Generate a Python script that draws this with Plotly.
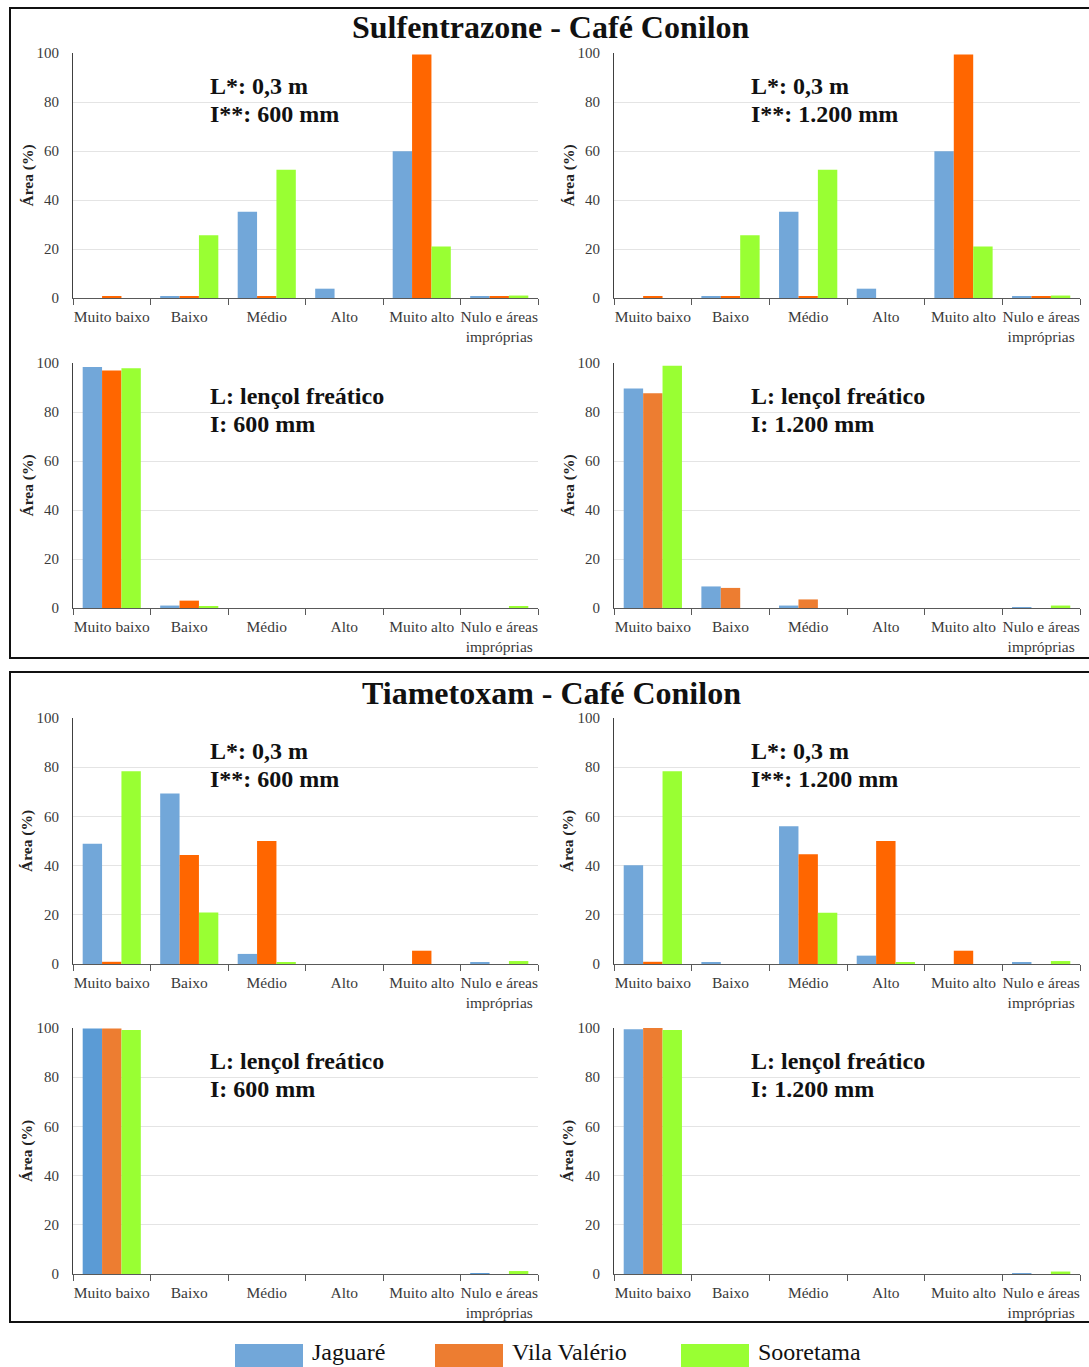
import plotly.graph_objects as go
from plotly.subplots import make_subplots

W, H = 1089, 1367

categorias = ["Muito baixo", "Baixo", "Médio", "Alto", "Muito alto", "Nulo e áreas<br>impróprias"]
municipios = ["Jaguaré", "Vila Valério", "Sooretama"]

# Sulfentrazone - L: 0,3 m, I: 600 mm
sulf_03_600_jag = [0.0, 0.8, 35.2, 3.8, 59.9, 0.5]
sulf_03_600_vil = [0.5, 0.5, 0.5, 0.0, 99.4, 0.5]
sulf_03_600_soo = [0.0, 25.6, 52.3, 0.0, 21.0, 1.0]
# Sulfentrazone - L: 0,3 m, I: 1.200 mm
sulf_03_1200_jag = [0.0, 0.8, 35.2, 3.8, 59.9, 0.5]
sulf_03_1200_vil = [0.5, 0.5, 0.5, 0.0, 99.4, 0.5]
sulf_03_1200_soo = [0.0, 25.6, 52.3, 0.0, 21.0, 1.0]
# Sulfentrazone - L: lençol freático, I: 600 mm
sulf_lf_600_jag = [98.4, 1.0, 0.0, 0.0, 0.0, 0.0]
sulf_lf_600_vil = [96.9, 3.0, 0.0, 0.0, 0.0, 0.0]
sulf_lf_600_soo = [97.9, 0.5, 0.0, 0.0, 0.0, 0.5]
# Sulfentrazone - L: lençol freático, I: 1.200 mm
sulf_lf_1200_jag = [89.6, 8.8, 1.0, 0.0, 0.0, 0.3]
sulf_lf_1200_vil = [87.7, 8.2, 3.5, 0.0, 0.0, 0.0]
sulf_lf_1200_soo = [98.9, 0.0, 0.0, 0.0, 0.0, 1.0]
# Tiametoxam - L: 0,3 m, I: 600 mm
tiam_03_600_jag = [48.9, 69.3, 4.1, 0.0, 0.0, 0.5]
tiam_03_600_vil = [0.9, 44.3, 50.0, 0.0, 5.4, 0.0]
tiam_03_600_soo = [78.4, 20.9, 0.5, 0.0, 0.0, 1.2]
# Tiametoxam - L: 0,3 m, I: 1.200 mm
tiam_03_1200_jag = [40.1, 0.8, 56.0, 3.4, 0.0, 0.5]
tiam_03_1200_vil = [0.9, 0.0, 44.6, 50.0, 5.4, 0.0]
tiam_03_1200_soo = [78.4, 0.0, 20.8, 0.5, 0.0, 1.2]
# Tiametoxam - L: lençol freático, I: 600 mm
tiam_lf_600_jag = [99.8, 0.0, 0.0, 0.0, 0.0, 0.3]
tiam_lf_600_vil = [99.8, 0.0, 0.0, 0.0, 0.0, 0.0]
tiam_lf_600_soo = [99.2, 0.0, 0.0, 0.0, 0.0, 1.2]
# Tiametoxam - L: lençol freático, I: 1.200 mm
tiam_lf_1200_jag = [99.5, 0.0, 0.0, 0.0, 0.0, 0.3]
tiam_lf_1200_vil = [100.0, 0.0, 0.0, 0.0, 0.0, 0.0]
tiam_lf_1200_soo = [99.2, 0.0, 0.0, 0.0, 0.0, 1.0]

titulos = ["Sulfentrazone - Café Conilon", "Tiametoxam - Café Conilon"]
rotulos_painel = [
    ("L*: 0,3 m", "I**: 600 mm"), ("L*: 0,3 m", "I**: 1.200 mm"),
    ("L: lençol freático", "I: 600 mm"), ("L: lençol freático", "I: 1.200 mm"),
    ("L*: 0,3 m", "I**: 600 mm"), ("L*: 0,3 m", "I**: 1.200 mm"),
    ("L: lençol freático", "I: 600 mm"), ("L: lençol freático", "I: 1.200 mm"),
]

BLUE = "#72A7D9"
BLUE_DARK = "#5B9BD5"
ORANGE_VIVID = "#FF6600"
ORANGE = "#ED7D31"
GREEN = "#99FF33"

paineis = [
    (sulf_03_600_jag, sulf_03_600_vil, sulf_03_600_soo, (BLUE, ORANGE_VIVID, GREEN)),
    (sulf_03_1200_jag, sulf_03_1200_vil, sulf_03_1200_soo, (BLUE, ORANGE_VIVID, GREEN)),
    (sulf_lf_600_jag, sulf_lf_600_vil, sulf_lf_600_soo, (BLUE, ORANGE_VIVID, GREEN)),
    (sulf_lf_1200_jag, sulf_lf_1200_vil, sulf_lf_1200_soo, (BLUE, ORANGE, GREEN)),
    (tiam_03_600_jag, tiam_03_600_vil, tiam_03_600_soo, (BLUE, ORANGE_VIVID, GREEN)),
    (tiam_03_1200_jag, tiam_03_1200_vil, tiam_03_1200_soo, (BLUE, ORANGE_VIVID, GREEN)),
    (tiam_lf_600_jag, tiam_lf_600_vil, tiam_lf_600_soo, (BLUE_DARK, ORANGE, GREEN)),
    (tiam_lf_1200_jag, tiam_lf_1200_vil, tiam_lf_1200_soo, (BLUE, ORANGE, GREEN)),
]


def px(x):
    return x / W


def py(y):
    return 1 - y / H


SERIF = "Liberation Serif, Times New Roman, serif"
TXT = "#3a3a3a"

# pixel extents of each plot area (left/right of columns, top/bottom of rows)
col_x = [(73, 538), (614, 1080)]
row_y = [(53, 298), (363, 608), (718, 964), (1028, 1274)]

fig = make_subplots(rows=4, cols=2)

for i, (jag, vil, soo, cores) in enumerate(paineis):
    r, c = i // 2 + 1, i % 2 + 1
    for nome, vals, cor in zip(municipios, (jag, vil, soo), cores):
        fig.add_trace(
            go.Bar(x=categorias, y=vals, name=nome, marker=dict(color=cor, line=dict(width=0)),
                   showlegend=False),
            row=r, col=c,
        )

for i in range(8):
    r, c = i // 2, i % 2
    sfx = "" if i == 0 else str(i + 1)
    x0, x1 = col_x[c]
    ytop, ybot = row_y[r]
    fig.layout["xaxis" + sfx].update(
        domain=[px(x0), px(x1)], automargin=False, showgrid=False,
        showline=True, linecolor="#595959", linewidth=1,
        ticks="outside", tickson="boundaries", ticklen=6, tickcolor="#595959",
        ticklabelstandoff=4,
        tickfont=dict(family=SERIF, size=15.5, color=TXT),
        tickangle=0, fixedrange=True,
    )
    fig.layout["yaxis" + sfx].update(
        domain=[py(ybot), py(ytop)], automargin=False, range=[0, 100],
        tickvals=[0, 20, 40, 60, 80, 100], showgrid=True, gridcolor="#E4E4E4", gridwidth=1,
        showline=True, linecolor="#404040", linewidth=1, zeroline=False,
        ticks="", ticklabelstandoff=10,
        tickfont=dict(family=SERIF, size=15, color=TXT), fixedrange=True,
    )
    # y axis title
    fig.add_annotation(
        x=px(x0 - 46), y=py((ytop + ybot) / 2), xref="paper", yref="paper",
        text="<b>Área (%)</b>", textangle=-90, showarrow=False,
        font=dict(family=SERIF, size=15.5, color="#222"), xanchor="center", yanchor="middle",
    )
    # panel labels
    l1, l2 = rotulos_painel[i]
    tx = x0 + 135
    for k, t in enumerate((l1, l2)):
        fig.add_annotation(
            x=px(tx), y=py(ytop + 33 + 28 * k), xref="paper", yref="paper",
            text="<b>" + t + "</b>", showarrow=False, xanchor="left", yanchor="middle",
            font=dict(family=SERIF, size=24, color="#111"),
        )

# outer boxes and titles
for (btop, bbot), titulo, ty in zip([(8, 658), (672, 1322)], titulos, [27, 693]):
    fig.add_shape(type="rect", xref="paper", yref="paper",
                  x0=px(10), x1=px(1100), y0=py(bbot), y1=py(btop),
                  line=dict(color="#111", width=2), fillcolor="rgba(0,0,0,0)", layer="below")
    fig.add_annotation(x=px(551), y=py(ty), xref="paper", yref="paper",
                       text="<b>" + titulo + "</b>", showarrow=False,
                       xanchor="center", yanchor="middle",
                       font=dict(family=SERIF, size=32, color="#111"))

# legend
leg_cores = [BLUE, ORANGE, GREEN]
leg_x = [235, 435, 681]
for nome, cor, lx in zip(municipios, leg_cores, leg_x):
    fig.add_shape(type="rect", xref="paper", yref="paper",
                  x0=px(lx), x1=px(lx + 68), y0=py(1368), y1=py(1344),
                  line=dict(width=0), fillcolor=cor)
    fig.add_annotation(x=px(lx + 75), y=py(1352), xref="paper", yref="paper",
                       text=nome, showarrow=False, xanchor="left", yanchor="middle",
                       font=dict(family=SERIF, size=24, color="#111"))

fig.update_layout(
    width=W, height=H, margin=dict(l=0, r=0, t=0, b=0),
    paper_bgcolor="white", plot_bgcolor="white",
    barmode="group", bargap=0.25, bargroupgap=0,
    showlegend=False,
)

fig.write_html("out.html")
